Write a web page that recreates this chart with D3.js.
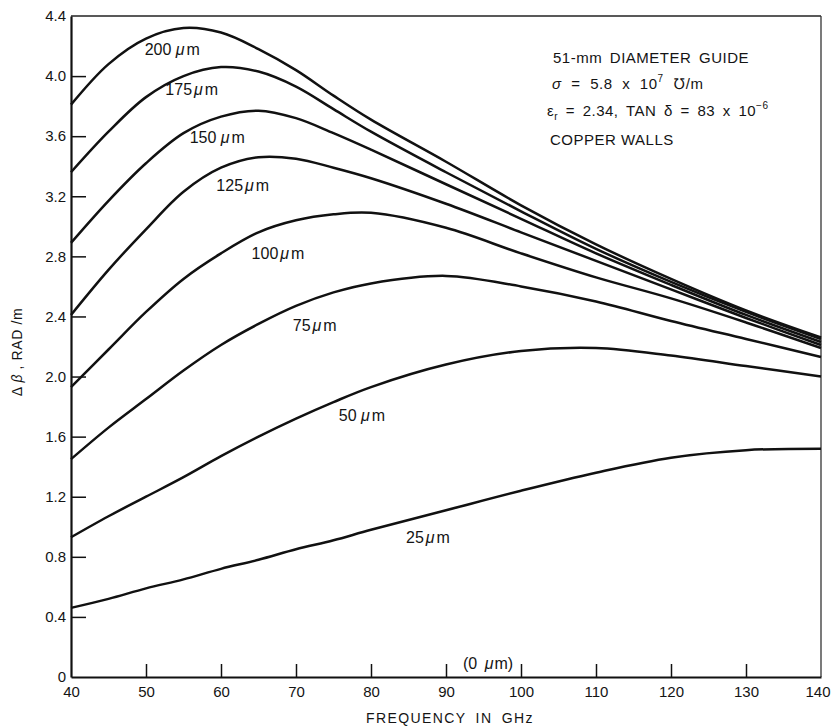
<!DOCTYPE html>
<html>
<head>
<meta charset="utf-8">
<script src="https://cdn.jsdelivr.net/npm/d3@7"></script>
<style>
  body { margin: 0; background: #fff; }
  svg text { font-family: "Liberation Sans", Arial, Helvetica, sans-serif; fill: #141414; }
</style>
</head>
<body>
<svg id="chart" width="831" height="726"></svg>
<script>
// Frequency samples (GHz) shared by every curve
const frequencies = [40, 45, 50, 55, 60, 65, 70, 75, 80, 90, 100, 110, 120, 130, 140];

// Differential phase constant Δβ (rad/m) for each dielectric thickness
const db200 = [3.81, 4.08, 4.25, 4.32, 4.29, 4.18, 4.04, 3.87, 3.71, 3.43, 3.14, 2.88, 2.65, 2.44, 2.26];
const db175 = [3.36, 3.63, 3.86, 4.00, 4.06, 4.03, 3.93, 3.78, 3.63, 3.36, 3.10, 2.85, 2.63, 2.43, 2.25];
const db150 = [2.89, 3.17, 3.42, 3.62, 3.73, 3.77, 3.72, 3.62, 3.51, 3.28, 3.05, 2.82, 2.61, 2.41, 2.23];
const db125 = [2.41, 2.71, 2.98, 3.23, 3.39, 3.46, 3.45, 3.39, 3.32, 3.15, 2.96, 2.77, 2.58, 2.39, 2.21];
const db100 = [1.93, 2.18, 2.43, 2.65, 2.82, 2.96, 3.04, 3.08, 3.09, 2.99, 2.82, 2.66, 2.52, 2.36, 2.19];
const db75  = [1.45, 1.66, 1.85, 2.04, 2.21, 2.35, 2.47, 2.56, 2.62, 2.67, 2.60, 2.50, 2.37, 2.25, 2.13];
const db50  = [0.93, 1.07, 1.20, 1.33, 1.47, 1.60, 1.72, 1.83, 1.93, 2.08, 2.17, 2.19, 2.14, 2.07, 2.00];
const db25  = [0.46, 0.52, 0.59, 0.65, 0.72, 0.78, 0.85, 0.91, 0.98, 1.11, 1.24, 1.36, 1.46, 1.51, 1.52];

const thicknesses = ["200", "175", "150", "125", "100", "75", "50", "25"];
const seriesValues = [db200, db175, db150, db125, db100, db75, db50, db25];

// Curve label anchors in data units (GHz, rad/m)
const labelFreq  = [53.5, 56.1, 59.5, 62.9, 67.6, 72.5, 78.8, 87.6];
const labelValue = [4.18, 3.91, 3.59, 3.27, 2.82, 2.34, 1.74, 0.93];
const labelSpace = [true, false, true, false, false, false, true, false];

// Axis ticks
const xTicks = [40, 50, 60, 70, 80, 90, 100, 110, 120, 130, 140];
const yTicks = [0, 0.4, 0.8, 1.2, 1.6, 2.0, 2.4, 2.8, 3.2, 3.6, 4.0, 4.4];
const yTickLabels = ["0", "0.4", "0.8", "1.2", "1.6", "2.0", "2.4", "2.8", "3.2", "3.6", "4.0", "4.4"];

const svg = d3.select("#chart");
const plotLeft = 71, plotRight = 821, plotTop = 16, plotBottom = 677;

const x = d3.scaleLinear().domain([40, 140]).range([plotLeft, plotRight]);
const y = d3.scaleLinear().domain([0, 4.4]).range([plotBottom, plotTop]);

// Frame: thin top and right edges
svg.append("line").attr("x1", plotLeft).attr("x2", plotRight).attr("y1", plotTop).attr("y2", plotTop)
  .attr("stroke", "#222").attr("stroke-width", 1.6);
svg.append("line").attr("x1", plotRight).attr("x2", plotRight).attr("y1", plotTop).attr("y2", plotBottom)
  .attr("stroke", "#333").attr("stroke-width", 1.3);

// Bottom axis, ticks pointing into the plot
const xAxis = d3.axisBottom(x).tickValues(xTicks).tickFormat(d3.format("d"))
  .tickSizeInner(-13).tickSizeOuter(0).tickPadding(9);
const gx = svg.append("g").attr("transform", `translate(0,${plotBottom})`).call(xAxis);
gx.select(".domain").attr("stroke", "#111").attr("stroke-width", 2.2);
gx.selectAll(".tick line").attr("stroke", "#111").attr("stroke-width", 1.5)
  .filter(d => d === 40 || d === 140).remove();
gx.selectAll(".tick text").attr("font-size", 15).attr("fill", "#141414")
  .style("font-family", "'Liberation Sans', Arial, sans-serif");
// last label sits against the page edge
gx.selectAll(".tick text").filter(d => d === 140).attr("text-anchor", "end").attr("x", 9);

// Left axis, ticks pointing into the plot
const yAxis = d3.axisLeft(y).tickValues(yTicks).tickFormat((d, i) => yTickLabels[i])
  .tickSizeInner(-15).tickSizeOuter(0).tickPadding(5);
const gy = svg.append("g").attr("transform", `translate(${plotLeft},0)`).call(yAxis);
gy.select(".domain").attr("stroke", "#111").attr("stroke-width", 2.2);
gy.selectAll(".tick line").attr("stroke", "#111").attr("stroke-width", 1.5)
  .filter(d => d === 0 || d === 4.4).remove();
gy.selectAll(".tick text").attr("font-size", 15).attr("fill", "#141414")
  .style("font-family", "'Liberation Sans', Arial, sans-serif");

// Curves
const line = d3.line()
  .x(d => x(d[0]))
  .y(d => y(d[1]))
  .curve(d3.curveCatmullRom.alpha(0.5));

svg.append("g").selectAll("path")
  .data(seriesValues.map(vals => frequencies.map((f, i) => [f, vals[i]])))
  .join("path")
  .attr("d", line)
  .attr("fill", "none")
  .attr("stroke", "#111")
  .attr("stroke-width", 2.5)
  .attr("stroke-linejoin", "round");

// Curve labels "NNN μm"
function thicknessLabel(sel, num, gap) {
  sel.append("tspan").text(num + (gap ? " " : ""));
  sel.append("tspan").attr("font-style", "italic").attr("dx", gap ? 0 : 2).text("μ");
  sel.append("tspan").attr("dx", 2).text("m");
}
const labels = svg.append("g").attr("font-size", 16);
thicknesses.forEach((t, i) => {
  const txt = labels.append("text")
    .attr("x", x(labelFreq[i]))
    .attr("y", y(labelValue[i]))
    .attr("text-anchor", "middle")
    .attr("dy", "0.35em");
  thicknessLabel(txt, t, labelSpace[i]);
});

// Zero-thickness case lies on the axis
const zeroLbl = svg.append("text")
  .attr("x", x(95.6)).attr("y", y(0.09)).attr("dy", "0.35em")
  .attr("text-anchor", "middle").attr("font-size", 16);
zeroLbl.append("tspan").text("(0 ");
zeroLbl.append("tspan").attr("font-style", "italic").attr("dx", 3).text("μ");
zeroLbl.append("tspan").attr("dx", 1).text("m)");

// Guide parameters
const notes = svg.append("g").attr("font-size", 15).attr("letter-spacing", 0.5);
notes.append("text").attr("x", 553).attr("y", 63).attr("word-spacing", 3)
  .text("51-mm DIAMETER GUIDE");
const sig = notes.append("text").attr("x", 552).attr("y", 89).attr("word-spacing", 5);
sig.append("tspan").attr("font-style", "italic").text("σ");
sig.append("tspan").text(" =  5.8  x  10");
sig.append("tspan").attr("font-size", 10).attr("dy", -7).text("7");
sig.append("tspan").attr("dy", 7).text("  \u2127/m");
const eps = notes.append("text").attr("x", 547).attr("y", 116).attr("word-spacing", 3);
eps.append("tspan").text("ε");
eps.append("tspan").attr("font-size", 10).attr("dy", 4).text("r");
eps.append("tspan").attr("dy", -4).text(" = 2.34,  TAN δ = 83  x  10");
eps.append("tspan").attr("font-size", 10).attr("dy", -7).text("−6");
notes.append("text").attr("x", 550).attr("y", 145).text("COPPER WALLS");

// Axis titles
svg.append("text")
  .attr("x", 450).attr("y", 723)
  .attr("text-anchor", "middle").attr("font-size", 14)
  .attr("letter-spacing", 1.4).attr("word-spacing", 4)
  .text("FREQUENCY IN GHz");

const yTitle = svg.append("text")
  .attr("transform", "translate(22,352) rotate(-90)")
  .attr("text-anchor", "middle").attr("font-size", 14).attr("letter-spacing", 0.6);
yTitle.append("tspan").text("Δ ");
yTitle.append("tspan").attr("font-style", "italic").text("β");
yTitle.append("tspan").text(" , RAD /m");
</script>
</body>
</html>
